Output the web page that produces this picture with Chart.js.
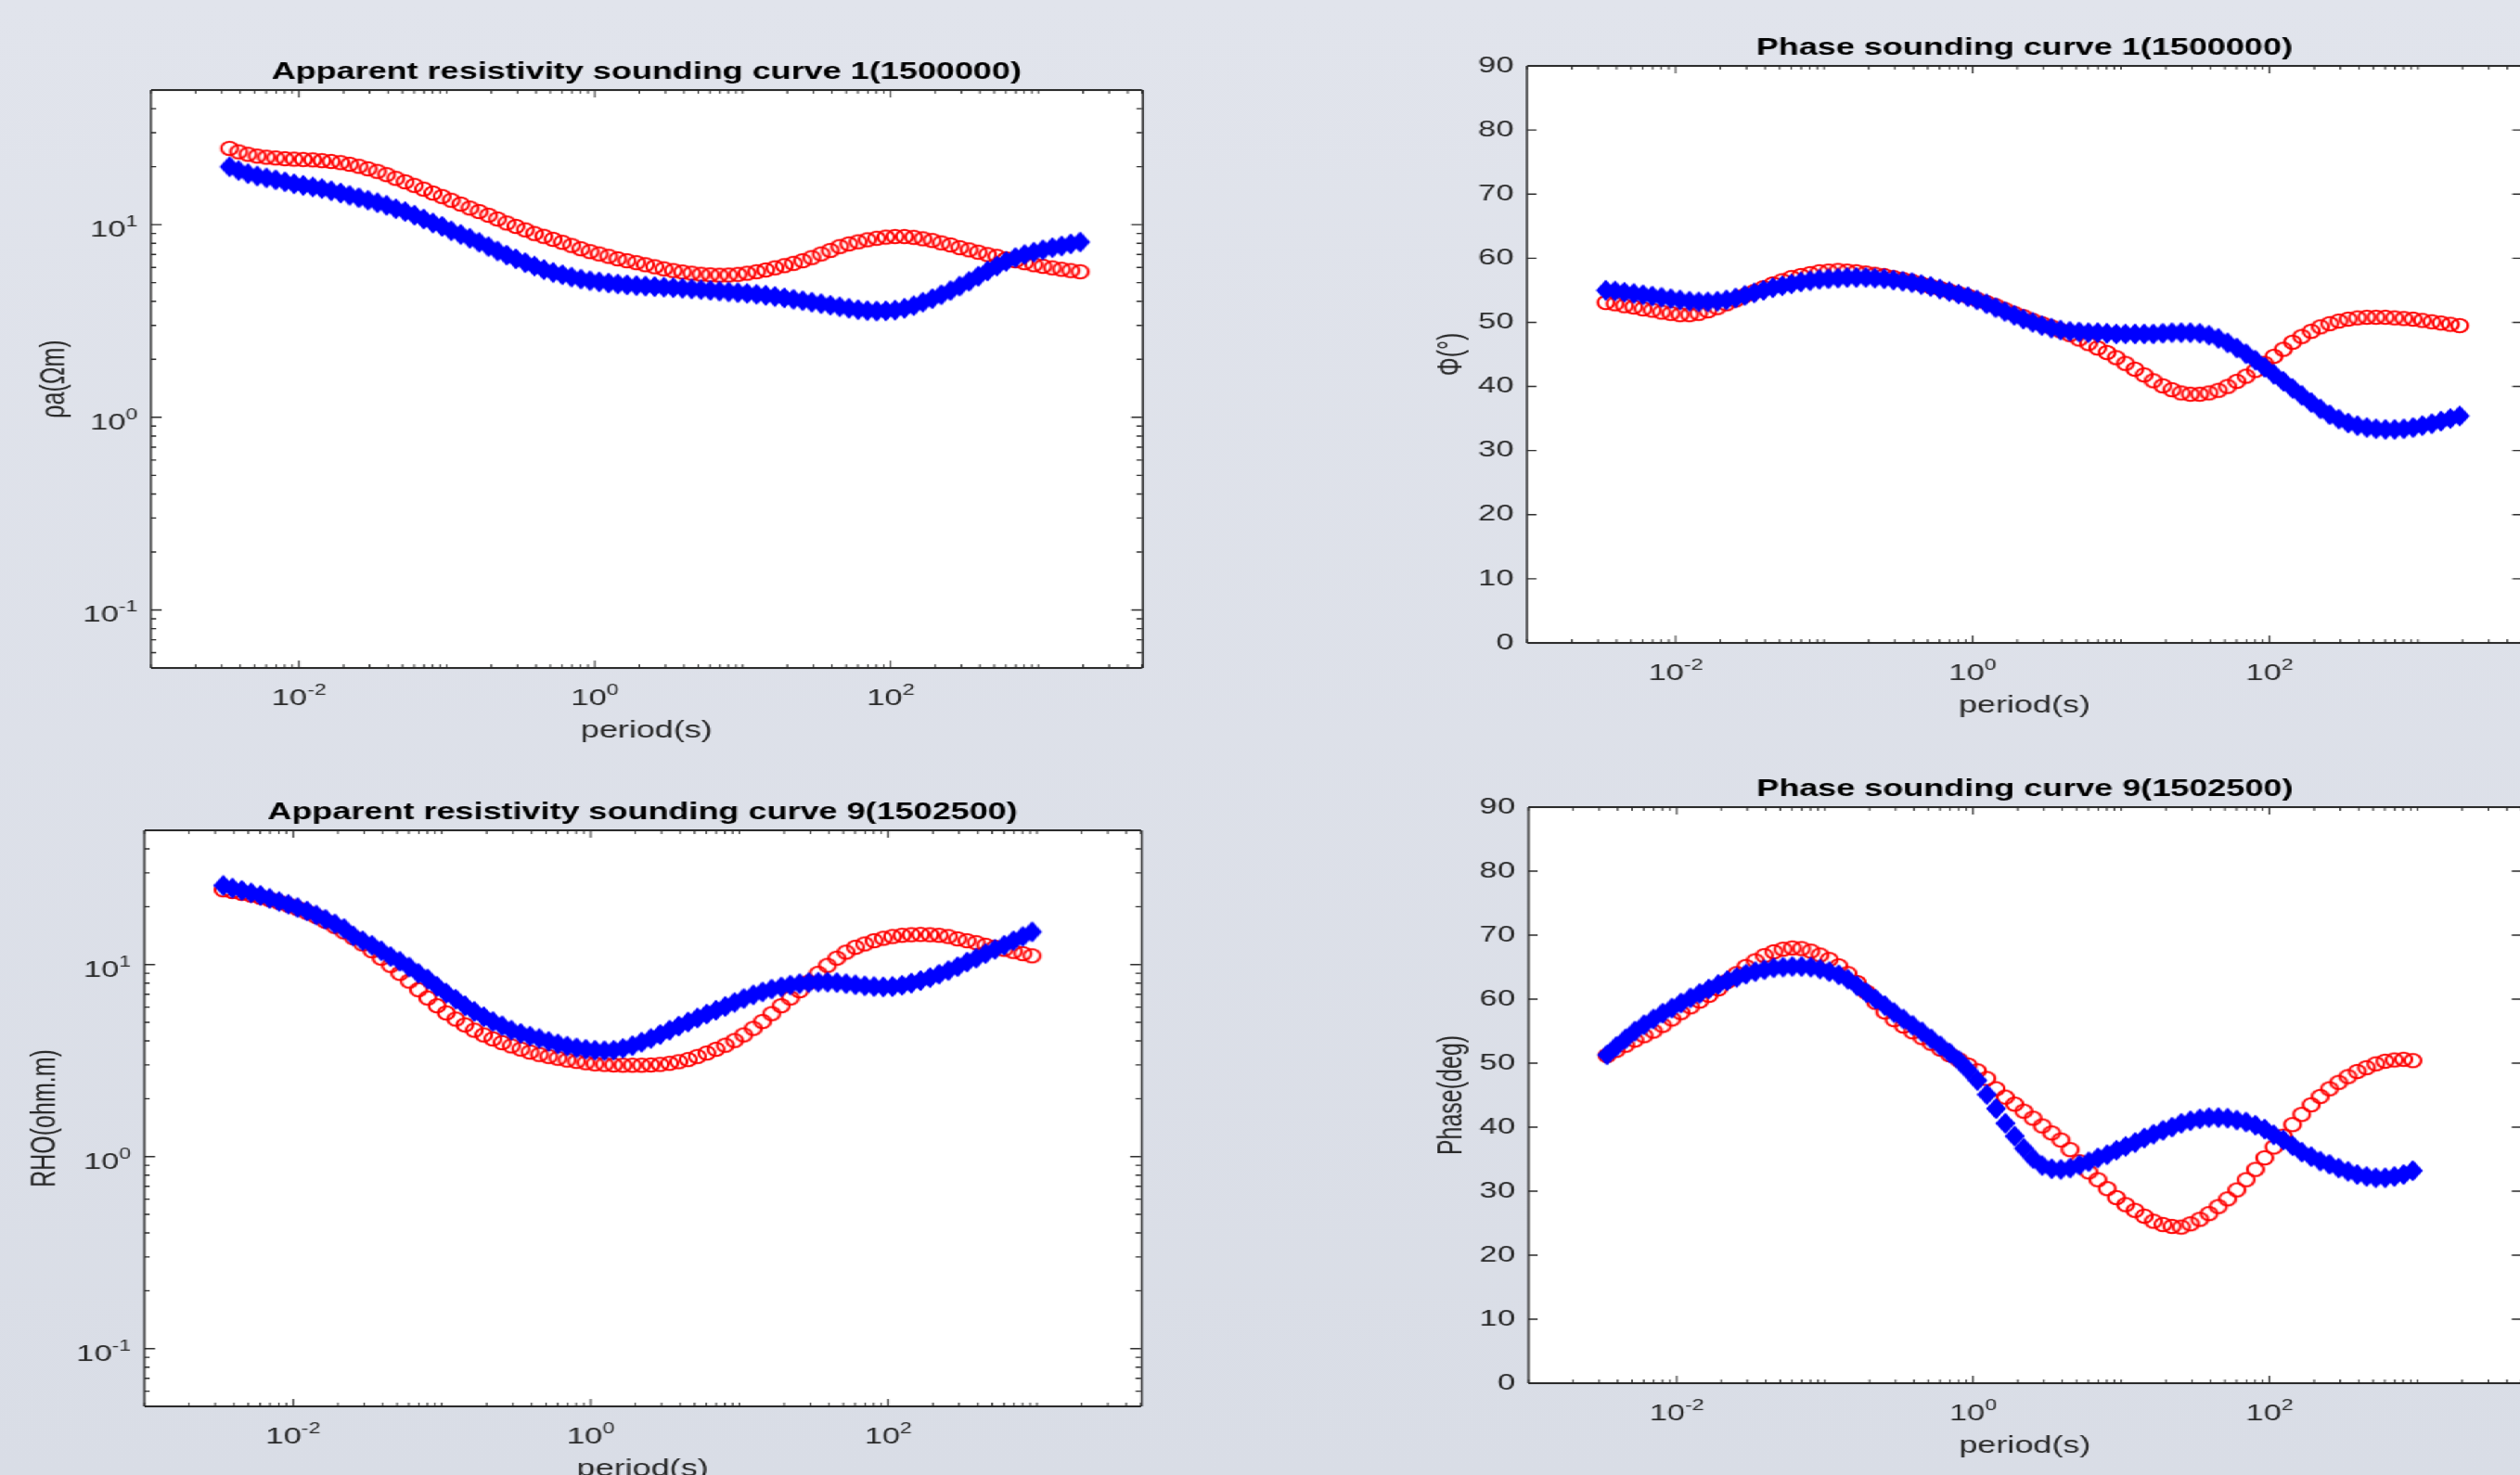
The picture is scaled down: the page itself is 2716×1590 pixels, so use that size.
<!DOCTYPE html>
<html>
<head>
<meta charset="utf-8">
<script src="https://cdn.jsdelivr.net/npm/chart.js@4.4.1/dist/chart.umd.min.js"></script>
<style>
html, body { margin: 0; padding: 0; }
body {
  width: 2716px; height: 1590px; overflow: hidden; position: relative;
  background: linear-gradient(to bottom, #e1e4ec, #d9dde6);
}
#wrap { position: absolute; left: 0; top: 0; height: 1590px; transform-origin: 0 0; }
.panel { position: absolute; }
</style>
</head>
<body>
<div id="wrap"></div>
<script>
// periods (s), one value per marker
const periods1 = [
  0.00339, 0.00391, 0.00452, 0.00522, 0.00603, 0.00696, 0.00804, 0.00928, 0.0107, 0.0124, 0.0143, 0.0165, 0.0191, 0.0220, 0.0254, 0.0293,
  0.0339, 0.0391, 0.0452, 0.0522, 0.0603, 0.0696, 0.0804, 0.0928, 0.107, 0.124, 0.143, 0.165, 0.191, 0.220, 0.254, 0.293,
  0.339, 0.391, 0.452, 0.522, 0.603, 0.696, 0.804, 0.928, 1.07, 1.24, 1.43, 1.65, 1.91, 2.20, 2.54, 2.93,
  3.39, 3.91, 4.52, 5.22, 6.03, 6.96, 8.04, 9.28, 10.7, 12.4, 14.3, 16.5, 19.1, 22.0, 25.4, 29.3,
  33.9, 39.1, 45.2, 52.2, 60.3, 69.6, 80.4, 92.8, 107, 124, 143, 165, 191, 220, 254, 293,
  339, 391, 452, 522, 603, 696, 804, 928, 1070, 1240, 1430, 1650, 1910
];
const periods9 = periods1.slice(0, 88);

// station 1 (1500000)
const rho1Red = [
  24.9, 23.9, 23.2, 22.7, 22.4, 22.2, 22.0, 21.9, 21.8, 21.7, 21.5, 21.3, 21.0, 20.6, 20.1, 19.5,
  18.9, 18.2, 17.4, 16.7, 16.0, 15.3, 14.6, 14.0, 13.4, 12.8, 12.2, 11.7, 11.2, 10.7, 10.2, 9.8,
  9.4, 9.0, 8.7, 8.4, 8.1, 7.8, 7.5, 7.25, 7.05, 6.85, 6.65, 6.5, 6.35, 6.2, 6.05, 5.9,
  5.78, 5.68, 5.6, 5.53, 5.49, 5.47, 5.48, 5.52, 5.6, 5.7, 5.82, 5.97, 6.13, 6.3, 6.5, 6.75,
  7.05, 7.35, 7.7, 7.95, 8.15, 8.35, 8.5, 8.62, 8.68, 8.68, 8.6, 8.45, 8.28, 8.05, 7.85, 7.6,
  7.4, 7.2, 7.0, 6.85, 6.65, 6.5, 6.35, 6.2, 6.08, 5.97, 5.87, 5.78, 5.7
];
const rho1Blue = [
  20.0, 19.1, 18.4, 17.9, 17.5, 17.1, 16.7, 16.3, 16.0, 15.7, 15.4, 15.0, 14.6, 14.2, 13.8, 13.4,
  13.0, 12.6, 12.1, 11.7, 11.2, 10.7, 10.2, 9.8, 9.3, 8.9, 8.5, 8.1, 7.7, 7.3, 6.95, 6.65,
  6.35, 6.1, 5.85, 5.65, 5.5, 5.35, 5.22, 5.12, 5.05, 4.98, 4.92, 4.87, 4.83, 4.8, 4.77, 4.74,
  4.71, 4.68, 4.64, 4.6, 4.56, 4.52, 4.48, 4.44, 4.4, 4.35, 4.3, 4.24, 4.17, 4.1, 4.03, 3.96,
  3.89, 3.82, 3.75, 3.68, 3.62, 3.58, 3.56, 3.57, 3.6, 3.68, 3.8, 3.96, 4.13, 4.33, 4.55, 4.8,
  5.08, 5.4, 5.75, 6.1, 6.45, 6.75, 7.0, 7.2, 7.4, 7.6, 7.75, 7.95, 8.13
];
const phase1Red = [
  53.1, 52.9, 52.6, 52.4, 52.1, 51.9, 51.6, 51.4, 51.2, 51.2, 51.4, 51.8, 52.3, 52.9, 53.5, 54.2,
  54.8, 55.4, 56.0, 56.5, 57.0, 57.3, 57.6, 57.9, 58.0, 58.1, 58.0, 57.9, 57.7, 57.5, 57.3, 57.0,
  56.7, 56.4, 56.0, 55.6, 55.3, 54.9, 54.5, 54.1, 53.6, 53.1, 52.6, 52.0, 51.4, 50.9, 50.3, 49.8,
  49.3, 48.7, 48.1, 47.4, 46.7, 46.0, 45.3, 44.5, 43.6, 42.7, 41.8, 40.9, 40.1, 39.5, 39.0, 38.8,
  38.8, 39.0, 39.4, 40.0, 40.8, 41.6, 42.5, 43.6, 44.7, 45.8, 46.9, 47.8, 48.6, 49.3, 49.8, 50.2,
  50.5, 50.7, 50.8, 50.8, 50.8, 50.7, 50.6, 50.5, 50.3, 50.1, 49.9, 49.7, 49.5
];
const phase1Blue = [
  55.0, 54.9, 54.7, 54.5, 54.3, 54.1, 53.9, 53.7, 53.5, 53.3, 53.2, 53.2, 53.3, 53.5, 53.8, 54.2,
  54.6, 55.0, 55.4, 55.7, 56.0, 56.3, 56.5, 56.7, 56.8, 56.9, 57.0, 57.0, 57.0, 56.9, 56.8, 56.6,
  56.4, 56.2, 55.9, 55.6, 55.2, 54.8, 54.4, 54.0, 53.5, 52.9, 52.3, 51.7, 51.1, 50.5, 50.0, 49.5,
  49.1, 48.8, 48.6, 48.5, 48.4, 48.4, 48.3, 48.2, 48.2, 48.2, 48.2, 48.2, 48.3, 48.4, 48.4, 48.4,
  48.3, 48.0, 47.5, 46.8, 46.0, 45.1, 44.1, 43.0, 41.9, 40.8, 39.7, 38.6, 37.5, 36.5, 35.6, 34.9,
  34.3, 33.9, 33.6, 33.4, 33.3, 33.3, 33.4, 33.6, 33.9, 34.2, 34.6, 35.0, 35.4
];

// station 9 (1502500)
const rho9Red = [
  24.5, 24.0, 23.5, 23.0, 22.4, 21.8, 21.1, 20.4, 19.6, 18.7, 17.8, 16.8, 15.8, 14.8, 13.8, 12.8,
  11.8, 10.8, 9.9, 9.0, 8.2, 7.4, 6.7, 6.1, 5.6, 5.2, 4.85, 4.55, 4.3, 4.1, 3.92, 3.77,
  3.63, 3.5, 3.4, 3.32, 3.25, 3.18, 3.13, 3.08, 3.04, 3.02, 3.0, 2.99, 2.99, 2.99, 3.0, 3.02,
  3.06, 3.12, 3.2, 3.32, 3.46, 3.62, 3.8, 4.02, 4.3, 4.65, 5.05, 5.55, 6.1, 6.7, 7.3, 8.1,
  9.0, 9.9, 10.8, 11.6, 12.3, 12.8, 13.3, 13.7, 14.0, 14.2, 14.3, 14.35, 14.3, 14.2, 14.0, 13.6,
  13.3, 13.0, 12.6, 12.3, 12.0, 11.7, 11.4, 11.1
];
const rho9Blue = [
  25.8, 25.0, 24.3, 23.6, 22.9, 22.1, 21.3, 20.6, 19.8, 19.0, 18.1, 17.2, 16.3, 15.4, 14.1, 13.3,
  12.6, 11.8, 11.0, 10.4, 9.7, 9.0, 8.4, 7.7, 7.1, 6.6, 6.1, 5.7, 5.35, 5.05, 4.8, 4.55,
  4.38, 4.24, 4.12, 3.98, 3.86, 3.76, 3.68, 3.62, 3.58, 3.56, 3.58, 3.66, 3.78, 3.94, 4.12, 4.32,
  4.55, 4.78, 5.02, 5.27, 5.52, 5.78, 6.05, 6.35, 6.65, 6.95, 7.2, 7.45, 7.65, 7.82, 7.95, 8.05,
  8.1, 8.1, 8.05, 7.95, 7.85, 7.75, 7.68, 7.65, 7.68, 7.8, 8.0, 8.25, 8.55, 8.9, 9.3, 9.75,
  10.3, 10.8, 11.4, 12.0, 12.6, 13.3, 14.0, 14.8
];
const phase9Red = [
  51.2, 52.0, 52.8, 53.6, 54.3, 55.0, 55.9, 56.9, 57.9, 58.8, 59.7, 60.6, 61.6, 62.8, 64.0, 65.1,
  66.0, 66.8, 67.4, 67.8, 68.0, 67.9, 67.5, 66.9, 66.2, 65.2, 64.0, 62.6, 61.1, 59.5, 58.0, 56.8,
  55.8, 54.9, 54.0, 53.1, 52.2, 51.3, 50.5, 49.7, 48.8, 47.6, 46.0, 44.7, 43.6, 42.5, 41.4, 40.2,
  39.1, 38.0, 36.5, 34.6, 33.0, 31.8, 30.4, 29.0, 27.9, 27.0, 26.1, 25.3, 24.8, 24.5, 24.4, 24.9,
  25.6, 26.5, 27.6, 28.8, 30.2, 31.8, 33.4, 35.2, 36.9, 38.6, 40.4, 42.0, 43.5, 44.8, 46.0, 47.0,
  47.9, 48.7, 49.3, 49.9, 50.3, 50.5, 50.6, 50.4
];
const phase9Blue = [
  51.3, 52.6, 53.8, 55.0, 56.0, 56.9, 57.8, 58.6, 59.4, 60.2, 60.9, 61.6, 62.3, 62.9, 63.4, 63.9,
  64.3, 64.6, 64.9, 65.0, 65.1, 65.1, 65.0, 64.7, 64.3, 63.8, 63.1, 62.1, 61.0, 60.0, 59.0, 57.9,
  56.9, 55.9, 54.9, 53.8, 52.7, 51.6, 50.4, 48.9, 47.3, 45.1, 42.9, 40.6, 38.6, 36.7, 35.1, 34.0,
  33.5, 33.4, 33.6, 34.1, 34.6, 35.2, 35.7, 36.4, 37.0, 37.6, 38.3, 38.9, 39.5, 40.0, 40.6, 41.0,
  41.3, 41.5, 41.5, 41.4, 41.1, 40.8, 40.3, 39.7, 38.8, 38.0, 37.1, 36.1, 35.4, 34.7, 34.2, 33.6,
  33.1, 32.6, 32.3, 32.1, 32.1, 32.3, 32.6, 33.2
];

// tick values and labels (base^exponent for the log axes)
const periodTicks = [0.01, 1, 100];
const periodTickLabels = ['10^-2', '10^0', '10^2'];
const rhoTicks = [0.1, 1, 10];
const rhoTickLabels = ['10^-1', '10^0', '10^1'];
const phaseTicks = [0, 10, 20, 30, 40, 50, 60, 70, 80, 90];

// the reference picture is stretched sideways, so the page is drawn narrow and widened
const SX = 1.44;
const FONT = "'Liberation Sans', Arial, Helvetica, sans-serif";
const AXIS_COLOR = '#262626';
const LW = 100, TOP = 60, RIGHT = 10, BOTTOM = 100;

function pts(xs, ys) {
  return xs.map((x, i) => ({x: x, y: ys[i]}));
}

function circleMarker() {
  const c = document.createElement('canvas');
  c.width = 18; c.height = 20;
  const g = c.getContext('2d');
  g.strokeStyle = '#ff0000';
  g.lineWidth = 2.1;
  g.beginPath();
  g.ellipse(9, 10, 6.1, 7.3, 0, 0, Math.PI * 2);
  g.stroke();
  return c;
}

function diamondMarker() {
  const c = document.createElement('canvas');
  c.width = 16; c.height = 24;
  const g = c.getContext('2d');
  g.fillStyle = '#0000ff';
  g.beginPath();
  g.moveTo(8, 0.5); g.lineTo(15.5, 12); g.lineTo(8, 23.5); g.lineTo(0.5, 12);
  g.closePath();
  g.fill();
  return c;
}

// "10" with a raised exponent; align 'center' or 'right'
function drawPower(ctx, label, x, y, align) {
  const [base, exp] = label.split('^');
  ctx.font = '24px ' + FONT;
  const wb = ctx.measureText(base).width;
  ctx.font = '16px ' + FONT;
  const we = ctx.measureText(exp).width;
  const x0 = align === 'center' ? x - (wb + we) / 2 : x - (wb + we);
  ctx.textAlign = 'left';
  ctx.textBaseline = 'alphabetic';
  ctx.font = '24px ' + FONT;
  ctx.fillText(base, x0, y);
  ctx.font = '16px ' + FONT;
  ctx.fillText(exp, x0 + wb, y - 11);
}

const axesBox = {
  id: 'axesBox',
  beforeDraw(chart) {
    const a = chart.chartArea, ctx = chart.ctx;
    ctx.save();
    ctx.fillStyle = '#ffffff';
    ctx.fillRect(a.left, a.top, a.right - a.left, a.bottom - a.top);
    ctx.restore();
  },
  afterDraw(chart, args, opts) {
    const a = chart.chartArea, ctx = chart.ctx;
    const xs = chart.scales.x, ys = chart.scales.y;
    ctx.save();
    ctx.strokeStyle = AXIS_COLOR;

    // minor + major ticks on bottom and top
    ctx.lineWidth = 1;
    ctx.beginPath();
    for (let e = -3; e <= 3; e++) {
      for (let m = 1; m <= 9; m++) {
        const v = m * Math.pow(10, e);
        if (v < xs.min * 0.999 || v > xs.max * 1.001) continue;
        const len = (m === 1 && e % 2 === 0) ? 8 : 4;
        const x = xs.getPixelForValue(v);
        ctx.moveTo(x, a.bottom); ctx.lineTo(x, a.bottom - len);
        ctx.moveTo(x, a.top); ctx.lineTo(x, a.top + len);
      }
    }
    ctx.stroke();

    // ticks on left and right
    ctx.lineWidth = 1.4;
    ctx.beginPath();
    const yt = [];
    if (opts.kind === 'rho') {
      for (let e = -2; e <= 1; e++) {
        for (let m = 1; m <= 9; m++) {
          const v = m * Math.pow(10, e);
          if (v < ys.min * 0.999 || v > ys.max * 1.001) continue;
          yt.push([v, m === 1 ? 8 : 4]);
        }
      }
    } else {
      phaseTicks.forEach(v => yt.push([v, 7]));
    }
    yt.forEach(([v, len]) => {
      const y = ys.getPixelForValue(v);
      ctx.moveTo(a.left, y); ctx.lineTo(a.left + len, y);
      ctx.moveTo(a.right, y); ctx.lineTo(a.right - len, y);
    });
    ctx.stroke();

    // box
    ctx.lineWidth = 2;
    ctx.beginPath();
    ctx.moveTo(a.left, a.top); ctx.lineTo(a.right, a.top);
    ctx.moveTo(a.left, a.bottom); ctx.lineTo(a.right, a.bottom);
    ctx.stroke();
    ctx.lineWidth = 1.4;
    ctx.beginPath();
    ctx.moveTo(a.left, a.top); ctx.lineTo(a.left, a.bottom);
    ctx.moveTo(a.right + 0.7, a.top); ctx.lineTo(a.right + 0.7, a.bottom);
    ctx.stroke();

    // power-of-ten tick labels
    ctx.fillStyle = AXIS_COLOR;
    periodTicks.forEach((v, i) => {
      drawPower(ctx, periodTickLabels[i], xs.getPixelForValue(v), a.bottom + 40, 'center');
    });
    if (opts.kind === 'rho') {
      rhoTicks.forEach((v, i) => {
        drawPower(ctx, rhoTickLabels[i], a.left - 10, ys.getPixelForValue(v) + 13, 'right');
      });
    }

    // title
    ctx.fillStyle = '#000000';
    ctx.font = 'bold 25px ' + FONT;
    ctx.textAlign = 'center';
    ctx.textBaseline = 'alphabetic';
    ctx.fillText(opts.title, (a.left + a.right) / 2, a.top - 12);
    ctx.restore();
  }
};

// plot boxes in reference pixels
const panels = [
  {l: 162, t: 97, r: 1230, b: 720, kind: 'rho', yTitleX: 58.5,
   title: 'Apparent resistivity sounding curve 1(1500000)', ylabel: '\u03C1a(\u03A9m)',
   periods: periods1, red: rho1Red, blue: rho1Blue},
  {l: 1646, t: 71, r: 2718, b: 693, kind: 'phase', yTitleX: 1566,
   title: 'Phase sounding curve 1(1500000)', ylabel: '\u03A6(\u00B0)',
   periods: periods1, red: phase1Red, blue: phase1Blue},
  {l: 156, t: 895, r: 1230, b: 1516, kind: 'rho', yTitleX: 50,
   title: 'Apparent resistivity sounding curve 9(1502500)', ylabel: 'RHO(ohm.m)',
   periods: periods9, red: rho9Red, blue: rho9Blue},
  {l: 1648, t: 870, r: 2718, b: 1491, kind: 'phase', yTitleX: 1566,
   title: 'Phase sounding curve 9(1502500)', ylabel: 'Phase(deg)',
   periods: periods9, red: phase9Red, blue: phase9Blue}
];

const wrap = document.getElementById('wrap');
wrap.style.width = (2716 / SX) + 'px';
wrap.style.transform = 'scaleX(' + SX + ')';

const circleImg = circleMarker();
const diamondImg = diamondMarker();

panels.forEach(p => {
  const plotW = (p.r - p.l) / SX;
  const left = p.l / SX - LW;
  const top = p.t - TOP;
  const W = Math.ceil(LW + plotW + RIGHT);
  const H = TOP + (p.b - p.t) + BOTTOM;

  const div = document.createElement('div');
  div.className = 'panel';
  div.style.left = left + 'px';
  div.style.top = top + 'px';
  div.style.width = W + 'px';
  div.style.height = H + 'px';
  const canvas = document.createElement('canvas');
  canvas.width = W; canvas.height = H;
  canvas.style.width = W + 'px';
  canvas.style.height = H + 'px';
  div.appendChild(canvas);
  wrap.appendChild(div);

  const tickFont = {family: FONT, size: 24, lineHeight: 1.2};
  const labelFont = {family: FONT, size: 25, lineHeight: 1.2};

  const yScale = p.kind === 'rho' ? {
    type: 'logarithmic', min: 0.05, max: 50, bounds: 'data',
    afterBuildTicks: s => { s.ticks = rhoTicks.map(v => ({value: v})); },
    ticks: {display: false}
  } : {
    type: 'linear', min: 0, max: 90,
    afterBuildTicks: s => { s.ticks = phaseTicks.map(v => ({value: v})); },
    ticks: {callback: (v, i) => String(phaseTicks[i]), font: tickFont, color: AXIS_COLOR,
      padding: 10, autoSkip: false}
  };
  Object.assign(yScale, {
    position: 'left',
    grid: {display: false, drawTicks: false},
    border: {display: false},
    afterFit: s => { s.width = LW; }
  });
  yScale.title = {display: true, text: p.ylabel, font: labelFont, color: AXIS_COLOR,
    padding: {top: p.yTitleX / SX - left - 15, bottom: 0}};

  new Chart(canvas, {
    type: 'scatter',
    data: {
      datasets: [
        {data: pts(p.periods, p.blue), pointStyle: diamondImg, pointRadius: 8, order: 0},
        {data: pts(p.periods, p.red), pointStyle: circleImg, pointRadius: 8, order: 1}
      ]
    },
    options: {
      responsive: false,
      animation: false,
      devicePixelRatio: 1,
      layout: {padding: {top: TOP, right: W - LW - plotW, left: 0, bottom: 0}},
      plugins: {
        legend: {display: false},
        tooltip: {enabled: false},
        axesBox: {title: p.title, kind: p.kind}
      },
      scales: {
        x: {
          type: 'logarithmic', min: 0.001, max: 5000, bounds: 'data', position: 'bottom',
          grid: {display: false, drawTicks: false},
          border: {display: false},
          afterBuildTicks: s => { s.ticks = periodTicks.map(v => ({value: v})); },
          afterFit: s => { s.height = BOTTOM; },
          ticks: {display: false},
          title: {display: true, text: 'period(s)', font: labelFont, color: AXIS_COLOR,
            padding: {top: 0, bottom: BOTTOM - 68 - 15}}
        },
        y: yScale
      }
    },
    plugins: [axesBox]
  });
});
</script>
</body>
</html>
